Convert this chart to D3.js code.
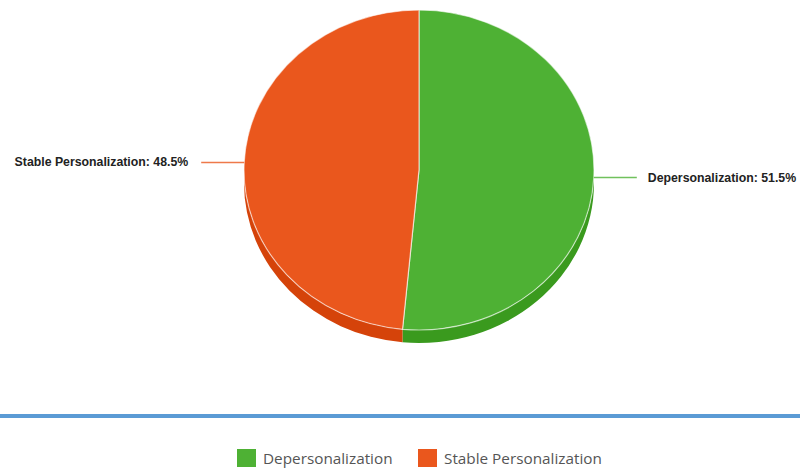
<!DOCTYPE html>
<html>
<head>
<meta charset="utf-8">
<script src="https://cdn.jsdelivr.net/npm/d3@7/dist/d3.min.js"></script>
<style>
  html, body { margin: 0; padding: 0; background: #fff; }
  svg { display: block; }
</style>
</head>
<body>
<svg id="chart" width="800" height="469"></svg>
<script>
// Share of each category (percent)
const categories = ["Depersonalization", "Stable Personalization"];
const values = [51.5, 48.5];
const topColors = ["#4eb134", "#ea571d"];
const sideColors = ["#3a9a1e", "#d5430a"];

const svg = d3.select("#chart");
const W = 800;

// Elliptical 3D pie geometry
const cx = 419, cy = 170, rx = 175, ry = 160, depth = 13;

const pie = d3.pie().sort(null).value(d => d.value);
const arcs = pie(categories.map((c, i) => ({ name: c, value: values[i], i })));

// angle measured clockwise from 12 o'clock
const px = a => cx + rx * Math.sin(a);
const py = (a, dy = 0) => cy - ry * Math.cos(a) + dy;

function topPath(a0, a1) {
  const large = (a1 - a0) > Math.PI ? 1 : 0;
  return `M${cx},${cy}L${px(a0)},${py(a0)}A${rx},${ry} 0 ${large} 1 ${px(a1)},${py(a1)}Z`;
}
function sidePath(a0, a1) {
  const large = (a1 - a0) > Math.PI ? 1 : 0;
  return `M${px(a0)},${py(a0)}A${rx},${ry} 0 ${large} 1 ${px(a1)},${py(a1)}` +
         `L${px(a1)},${py(a1, depth)}A${rx},${ry} 0 ${large} 0 ${px(a0)},${py(a0, depth)}Z`;
}

const g = svg.append("g");

// visible side walls: front half of the ellipse (between 90° and 270°)
arcs.forEach(d => {
  const lo = Math.max(d.startAngle, Math.PI / 2);
  const hi = Math.min(d.endAngle, 3 * Math.PI / 2);
  if (hi > lo) {
    g.append("path")
      .attr("d", sidePath(lo, hi))
      .attr("fill", sideColors[d.data.i]);
  }
});

// top faces
arcs.forEach(d => {
  g.append("path")
    .attr("d", topPath(d.startAngle, d.endAngle))
    .attr("fill", topColors[d.data.i])
    .attr("stroke", "#ffffff")
    .attr("stroke-opacity", 0.6)
    .attr("stroke-width", 1.2)
    .attr("stroke-linejoin", "round");
});

// leader lines and value labels
arcs.forEach(d => {
  const mid = (d.startAngle + d.endAngle) / 2;
  const x0 = px(mid), y0 = py(mid);
  const right = Math.sin(mid) > 0;
  const x1 = right ? x0 + 43 : x0 - 43;
  g.append("line")
    .attr("x1", x0).attr("y1", y0)
    .attr("x2", x1).attr("y2", y0)
    .attr("stroke", topColors[d.data.i])
    .attr("stroke-width", 1.5)
    .attr("stroke-opacity", 0.8);
  g.append("text")
    .attr("x", right ? x1 + 11 : x1 - 13)
    .attr("y", y0 + 4)
    .attr("text-anchor", right ? "start" : "end")
    .attr("font-family", "Liberation Sans, Arial, sans-serif")
    .attr("font-weight", "bold")
    .attr("font-size", 12.3)
    .attr("fill", "#222")
    .text(`${d.data.name}: ${d3.format(".1f")(d.data.value)}%`);
});

// separator rule
svg.append("rect")
  .attr("x", 0).attr("y", 414)
  .attr("width", W).attr("height", 4)
  .attr("fill", "#5b9bd5");

// legend
const legendX = [237, 418];
const legend = svg.append("g");
categories.forEach((c, i) => {
  legend.append("rect")
    .attr("x", legendX[i]).attr("y", 449)
    .attr("width", 19).attr("height", 18)
    .attr("fill", topColors[i]);
  legend.append("text")
    .attr("x", legendX[i] + 26).attr("y", 464)
    .attr("font-family", "Open Sans, sans-serif")
    .attr("font-size", 15.3)
    .attr("fill", "#555")
    .text(c);
});
</script>
</body>
</html>
